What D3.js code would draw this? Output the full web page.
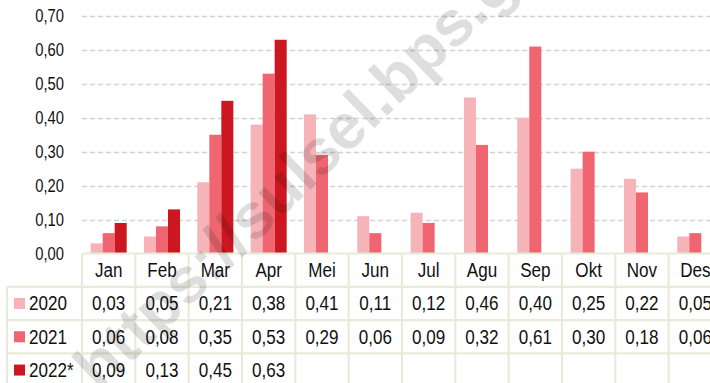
<!DOCTYPE html>
<html>
<head>
<meta charset="utf-8">
<script src="https://cdn.jsdelivr.net/npm/d3@7"></script>
<style>
  html, body { margin: 0; padding: 0; background: #fff; }
  svg { display: block; font-family: "Liberation Sans", Arial, sans-serif; }
</style>
</head>
<body>
<svg id="chart" width="710" height="383"></svg>
<script>
// Monthly values per year
const months = ["Jan", "Feb", "Mar", "Apr", "Mei", "Jun", "Jul", "Agu", "Sep", "Okt", "Nov", "Des"];
const seriesNames = ["2020", "2021", "2022*"];
const values2020 = [0.03, 0.05, 0.21, 0.38, 0.41, 0.11, 0.12, 0.46, 0.40, 0.25, 0.22, 0.05];
const values2021 = [0.06, 0.08, 0.35, 0.53, 0.29, 0.06, 0.09, 0.32, 0.61, 0.30, 0.18, 0.06];
const values2022 = [0.09, 0.13, 0.45, 0.63, null, null, null, null, null, null, null, null];
const yTicks = [0, 0.1, 0.2, 0.3, 0.4, 0.5, 0.6, 0.7];
const colors = ["#f6b4b9", "#ef6670", "#cc1720"];

const seriesValues = [values2020, values2021, values2022];
const fmt = v => v.toFixed(2).replace(".", ",");

const svg = d3.select("#chart");
const colW = 53.33;
const plotLeft = 82;
const y = d3.scaleLinear().domain([0, 0.7]).range([253.5, 16]);
const x = d3.scaleBand().domain(months).range([plotLeft, plotLeft + colW * months.length]);
const x1 = d3.scaleBand().domain(seriesNames).range([0, x.bandwidth()]).paddingOuter(0.72);

// condensed text: horizontally squeezed around its anchor
function label(parent, tx, ty, str, size, anchor, sx) {
  parent.append("g")
    .attr("transform", `translate(${tx},${ty}) scale(${sx},1)`)
    .append("text")
    .attr("dy", "0.36em")
    .attr("text-anchor", anchor)
    .attr("font-size", size)
    .attr("fill", "#111")
    .text(str);
}

// dashed gridlines
svg.append("g").selectAll("line")
  .data(yTicks.filter(t => t > 0))
  .join("line")
  .attr("x1", plotLeft).attr("x2", 710)
  .attr("y1", d => Math.round(y(d)) + 0.5).attr("y2", d => Math.round(y(d)) + 0.5)
  .attr("stroke", "#d3d3d3").attr("stroke-width", 1.3)
  .attr("stroke-dasharray", "5,3");

// y tick labels
const yLab = svg.append("g");
yTicks.forEach(t => label(yLab, 64, y(t), fmt(t), 17.6, "end", 0.84));

// bars
const barG = svg.append("g");
seriesNames.forEach((s, si) => {
  barG.append("g").selectAll("rect")
    .data(months.map((m, i) => ({ m, v: seriesValues[si][i] })).filter(d => d.v !== null))
    .join("rect")
    .attr("x", d => x(d.m) + x1(s))
    .attr("width", x1.bandwidth())
    .attr("y", d => y(d.v))
    .attr("height", d => y(0) - y(d.v))
    .attr("fill", colors[si]);
});

// data table
const rowTop = 253.5, rowH = 33.3, tableLeft = 7;
const border = "#e8ebd9";
const tbl = svg.append("g");
const rows = 4;
for (let r = 0; r <= rows; r++) {
  tbl.append("line")
    .attr("x1", r === 0 ? plotLeft : tableLeft).attr("x2", 710)
    .attr("y1", rowTop + r * rowH).attr("y2", rowTop + r * rowH)
    .attr("stroke", border).attr("stroke-width", 2.2);
}
months.forEach(m => {
  tbl.append("line")
    .attr("x1", x(m)).attr("x2", x(m))
    .attr("y1", rowTop).attr("y2", 383)
    .attr("stroke", border).attr("stroke-width", 2.2);
});
tbl.append("line")
  .attr("x1", x("Des") + colW).attr("x2", x("Des") + colW)
  .attr("y1", rowTop).attr("y2", 383)
  .attr("stroke", border).attr("stroke-width", 2.2);
tbl.append("line")
  .attr("x1", tableLeft).attr("x2", tableLeft)
  .attr("y1", rowTop + rowH).attr("y2", 383)
  .attr("stroke", border).attr("stroke-width", 2.2);

const cellSize = 19.5, cellSx = 0.875;

// month header
months.forEach(m => label(tbl, x(m) + colW / 2, rowTop + rowH / 2, m, cellSize, "middle", cellSx));

// legend + value rows
seriesNames.forEach((s, si) => {
  const cy = rowTop + rowH * (si + 1) + rowH / 2;
  tbl.append("rect")
    .attr("x", 14).attr("y", cy - 5.5)
    .attr("width", 11).attr("height", 11)
    .attr("fill", colors[si]);
  label(tbl, 29, cy, s, cellSize, "start", cellSx);
  months.forEach((m, i) => {
    const v = seriesValues[si][i];
    if (v !== null) label(tbl, x(m) + colW / 2, cy, fmt(v), cellSize, "middle", cellSx);
  });
});

// site watermark
svg.append("text")
  .attr("transform", "translate(100,393) rotate(-44)")
  .attr("font-weight", "bold")
  .attr("font-size", 64)
  .attr("fill", "rgba(0,0,0,0.13)")
  .text("https://sulsel.bps.go.id");
</script>
</body>
</html>
